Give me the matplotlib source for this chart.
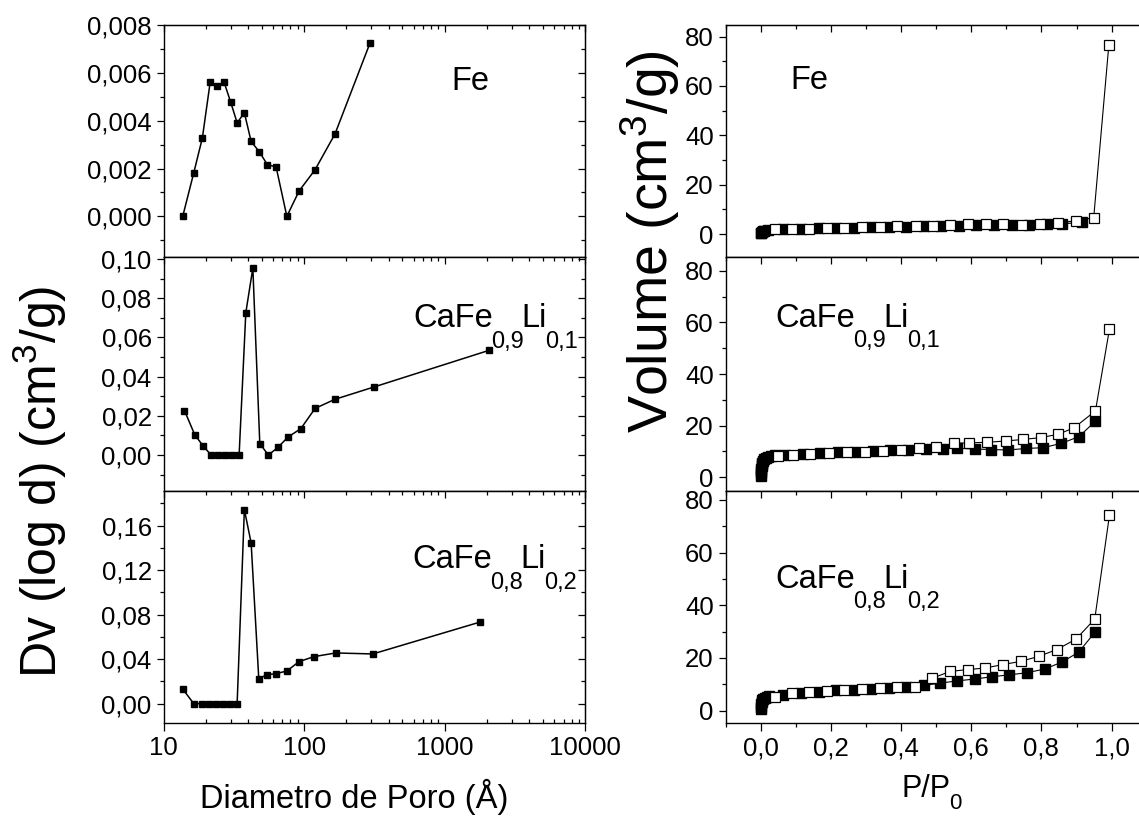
import matplotlib
matplotlib.use("Agg")
import matplotlib.pyplot as plt
from matplotlib.transforms import IdentityTransform
from matplotlib.ticker import MultipleLocator, LogLocator, FuncFormatter, NullFormatter

plt.rcParams["font.family"] = ["Liberation Sans", "DejaVu Sans"]
plt.rcParams["mathtext.default"] = "regular"

# pore size distribution (diameter in angstrom, Dv(log d) in cm3/g)
d_fe = [13.7, 16.4, 18.9, 21.5, 24.1, 26.9, 30.1, 33.4, 37.6, 42.0, 47.9, 54.8,
        63.2, 75.4, 92.1, 119.7, 166, 294]
dv_fe = [0.0, 0.00181, 0.00328, 0.00563, 0.00543, 0.00563, 0.00476, 0.00391,
         0.00433, 0.00313, 0.00271, 0.00216, 0.00207, 0.0, 0.00106, 0.00195,
         0.00345, 0.00724]

d_li1 = [14.1, 16.7, 19.1, 21.8, 24.5, 27.4, 30.8, 34.5, 38.5, 43.2, 48.4, 55.7,
         65.0, 76.9, 94.8, 119.7, 165, 313, 2065]
dv_li1 = [0.0227, 0.0103, 0.0048, 0.0, 0.0, 0.0, 0.0, 0.0, 0.0726, 0.0954,
          0.0059, 0.0, 0.0039, 0.0092, 0.0135, 0.0238, 0.0284, 0.0347, 0.0534]

d_li2 = [13.7, 16.4, 18.8, 21.2, 23.8, 26.7, 29.9, 33.4, 37.6, 42.0, 47.6, 54.6,
         63.2, 75.4, 92.1, 117.5, 168, 308, 1790]
dv_li2 = [0.0131, 0.0, 0.0, 0.0, 0.0, 0.0, 0.0, 0.0, 0.1743, 0.1444, 0.0224,
          0.0260, 0.0269, 0.0293, 0.0377, 0.0422, 0.0455, 0.0446, 0.0733]

# N2 isotherms: adsorption (filled) and desorption (open), volume in cm3/g
p_ads_fe = [0.001, 0.002, 0.004, 0.006, 0.01, 0.02, 0.065, 0.115, 0.165, 0.215,
            0.265, 0.315, 0.365, 0.415, 0.465, 0.515, 0.565, 0.615, 0.665, 0.715,
            0.765, 0.815, 0.86, 0.915]
v_ads_fe = [0.3, 0.6, 0.9, 1.1, 1.3, 1.6, 1.9, 2.1, 2.3, 2.4, 2.6, 2.8, 2.9, 3.0,
            3.2, 3.3, 3.4, 3.5, 3.6, 3.7, 3.8, 3.9, 4.1, 4.8]
p_des_fe = [0.040, 0.089, 0.139, 0.189, 0.239, 0.290, 0.339, 0.390, 0.442, 0.491,
            0.541, 0.591, 0.641, 0.690, 0.745, 0.795, 0.846, 0.899, 0.949, 0.992]
v_des_fe = [1.9, 1.9, 2.15, 2.4, 2.55, 2.8, 2.96, 3.1, 3.37, 3.37, 3.65, 3.93,
            4.05, 4.18, 3.65, 3.93, 4.46, 5.4, 6.6, 76.4]

p_ads_li1 = [0.0005, 0.001, 0.0015, 0.002, 0.003, 0.004, 0.005, 0.007, 0.01,
             0.014, 0.02, 0.03, 0.04, 0.07, 0.12, 0.17, 0.22, 0.27, 0.32, 0.37,
             0.42, 0.47, 0.52, 0.56, 0.61, 0.655, 0.705, 0.755, 0.805, 0.857,
             0.907, 0.954]
v_ads_li1 = [0.3, 1.5, 2.5, 3.3, 4.2, 5.0, 5.6, 6.3, 6.9, 7.4, 7.8, 8.2, 8.4,
             8.7, 9.1, 9.4, 9.7, 9.9, 10.2, 10.4, 10.6, 10.8, 11.0, 11.2, 10.9,
             10.7, 10.5, 11.1, 11.4, 13.1, 15.7, 21.7]
p_des_li1 = [0.049, 0.092, 0.142, 0.195, 0.246, 0.298, 0.348, 0.400, 0.451, 0.499,
             0.551, 0.595, 0.646, 0.698, 0.747, 0.798, 0.847, 0.893, 0.954, 0.994]
v_des_li1 = [8.2, 8.5, 8.9, 9.3, 9.6, 9.8, 10.1, 10.6, 11.1, 11.5, 13.1, 13.3,
             13.5, 14.0, 14.6, 15.3, 16.6, 19.1, 25.7, 57.5]

p_ads_li2 = [0.0005, 0.001, 0.002, 0.003, 0.005, 0.008, 0.012, 0.018, 0.025,
             0.065, 0.115, 0.165, 0.215, 0.265, 0.315, 0.365, 0.415, 0.465,
             0.510, 0.559, 0.610, 0.660, 0.709, 0.759, 0.809, 0.858, 0.906, 0.954]
v_ads_li2 = [0.5, 1.5, 2.5, 3.2, 3.9, 4.4, 4.8, 5.2, 5.5, 6.1, 6.8, 7.2, 7.7,
             8.0, 8.4, 8.7, 9.0, 9.6, 10.4, 11.3, 12.0, 12.9, 13.6, 14.4, 15.8,
             18.4, 22.2, 30.0]
p_des_li2 = [0.040, 0.089, 0.139, 0.189, 0.239, 0.290, 0.339, 0.390, 0.439, 0.489,
             0.540, 0.590, 0.640, 0.690, 0.741, 0.792, 0.844, 0.899, 0.952, 0.994]
v_des_li2 = [5.3, 6.6, 7.0, 7.5, 7.9, 8.2, 8.5, 8.9, 9.1, 12.3, 14.9, 15.6, 16.2,
             17.5, 18.7, 20.6, 23.2, 27.2, 34.8, 74.3]

# sample names as (text, is_subscript) pieces
names = [
    [("Fe", False)],
    [("CaFe", False), ("0,9", True), ("Li", False), ("0,1", True)],
    [("CaFe", False), ("0,8", True), ("Li", False), ("0,2", True)],
]

W, H = 1139, 816
fig = plt.figure(figsize=(W / 100, H / 100), dpi=100)
renderer = fig.canvas.get_renderer()

rows = [(25, 257), (257, 491), (491, 723.3)]


def box(x0, x1, top, bottom):
    return [x0 / W, 1 - bottom / H, (x1 - x0) / W, (bottom - top) / H]


def comma(fmt):
    return FuncFormatter(lambda v, p: format(v, fmt).replace(".", ","))


def formula(x, y_top, parts, size, sub_size, drop):
    # pixel position of the first baseline, measured from the top-left corner
    y = H - y_top
    for s, sub in parts:
        t = fig.text(x, y - (drop if sub else 0), s, transform=IdentityTransform(),
                     fontsize=sub_size if sub else size, ha="left", va="baseline")
        x = t.get_window_extent(renderer).x1 - 2


TICK = 18.5
LABEL = 23.5
SUB = 17

# left column: pore distributions
left_data = [(d_fe, dv_fe), (d_li1, dv_li1), (d_li2, dv_li2)]
left_ylim = [(-0.0017, 0.008), (-0.0183, 0.101), (-0.0177, 0.191)]
left_major = [0.002, 0.02, 0.04]
left_fmt = [".3f", ".2f", ".2f"]
left_text = [(451.7, 90), (413, 327), (412, 568)]

for i in range(3):
    ax = fig.add_axes(box(163.5, 585.3, *rows[i]))
    x, y = left_data[i]
    ax.plot(x, y, "-s", color="black", lw=1.1, ms=4.2)
    ax.set_xscale("log")
    ax.set_xlim(10, 10000)
    ax.set_ylim(*left_ylim[i])
    ax.yaxis.set_major_locator(MultipleLocator(left_major[i]))
    ax.yaxis.set_minor_locator(MultipleLocator(left_major[i] / 2))
    ax.yaxis.set_major_formatter(comma(left_fmt[i]))
    ax.xaxis.set_major_locator(LogLocator(base=10))
    ax.xaxis.set_minor_locator(LogLocator(base=10, subs=range(2, 10)))
    ax.xaxis.set_major_formatter(FuncFormatter(lambda v, p: f"{v:g}"))
    ax.xaxis.set_minor_formatter(NullFormatter())
    ax.tick_params(axis="y", which="both", direction="out", right=False,
                   labelsize=TICK, width=0.9)
    ax.tick_params(axis="y", which="major", length=5)
    ax.tick_params(axis="y", which="minor", length=3)
    if i < 2:
        ax.tick_params(axis="x", which="both", bottom=False, labelbottom=False)
    else:
        ax.tick_params(axis="x", which="major", direction="out", length=6,
                       labelsize=TICK, width=0.9)
        ax.tick_params(axis="x", which="minor", direction="in", length=3, width=0.9)
    top = ax.secondary_xaxis("top")
    top.xaxis.set_minor_locator(LogLocator(base=10, subs=range(2, 10)))
    top.tick_params(which="both", direction="in", labeltop=False, width=0.9)
    top.tick_params(which="major", length=5)
    top.tick_params(which="minor", length=3)
    right = ax.secondary_yaxis("right")
    right.yaxis.set_major_locator(MultipleLocator(left_major[i]))
    right.yaxis.set_minor_locator(MultipleLocator(left_major[i] / 2))
    right.tick_params(which="both", direction="in", labelright=False, width=0.9)
    right.tick_params(which="major", length=5)
    right.tick_params(which="minor", length=3)
    for s in ax.spines.values():
        s.set_linewidth(1.0)
    formula(*left_text[i], names[i], LABEL, SUB, 21)

# right column: isotherms
ads = [(p_ads_fe, v_ads_fe), (p_ads_li1, v_ads_li1), (p_ads_li2, v_ads_li2)]
des = [(p_des_fe, v_des_fe), (p_des_li1, v_des_li1), (p_des_li2, v_des_li2)]
right_ylim = [(-9.3, 84.7), (-5.4, 85.4), (-4.8, 83.4)]
right_text = [(790, 89), (775, 327), (775, 588)]

for i in range(3):
    ax = fig.add_axes(box(725.5, 725.5 + 421.2, *rows[i]))
    ax.plot(*ads[i], "-s", color="black", lw=0.8, ms=7.2, mfc="black", mec="black")
    ax.plot(*des[i], "-s", color="black", lw=0.8, ms=7.2, mfc="white",
            mec="black", mew=0.9)
    ax.set_xlim(-0.1, 1.1)
    ax.set_ylim(*right_ylim[i])
    ax.xaxis.set_major_locator(MultipleLocator(0.2))
    ax.xaxis.set_minor_locator(MultipleLocator(0.1))
    ax.xaxis.set_major_formatter(comma(".1f"))
    ax.yaxis.set_major_locator(MultipleLocator(20))
    ax.yaxis.set_minor_locator(MultipleLocator(10))
    ax.tick_params(axis="y", which="both", direction="out", labelsize=TICK, width=0.9)
    ax.tick_params(axis="y", which="major", length=5)
    ax.tick_params(axis="y", which="minor", length=3)
    if i < 2:
        ax.tick_params(axis="x", which="both", bottom=False, labelbottom=False)
    else:
        ax.tick_params(axis="x", which="both", direction="out", labelsize=TICK,
                       width=0.9)
        ax.tick_params(axis="x", which="major", length=6)
        ax.tick_params(axis="x", which="minor", length=3)
    top = ax.secondary_xaxis("top")
    top.xaxis.set_major_locator(MultipleLocator(0.2))
    top.xaxis.set_minor_locator(MultipleLocator(0.1))
    top.tick_params(which="both", direction="in", labeltop=False, width=0.9)
    top.tick_params(which="major", length=5)
    top.tick_params(which="minor", length=3)
    for s in ax.spines.values():
        s.set_linewidth(1.0)
    formula(*right_text[i], names[i], LABEL, SUB, 20)

# axis titles
fig.text(40 / W, 1 - 482 / H, "Dv (log d) (cm$^{3}$/g)", rotation=90,
         ha="center", va="center", fontsize=36)
fig.text(650 / W, 1 - 242 / H, "Volume (cm$^{3}$/g)", rotation=90,
         ha="center", va="center", fontsize=40)
fig.text(354 / W, 1 - 808 / H, "Diametro de Poro (Å)", ha="center",
         va="baseline", fontsize=23.5)
formula(902, 797, [("P/P", False), ("0", True)], 22, 16, 12)

fig.savefig("out.png", dpi=100)
